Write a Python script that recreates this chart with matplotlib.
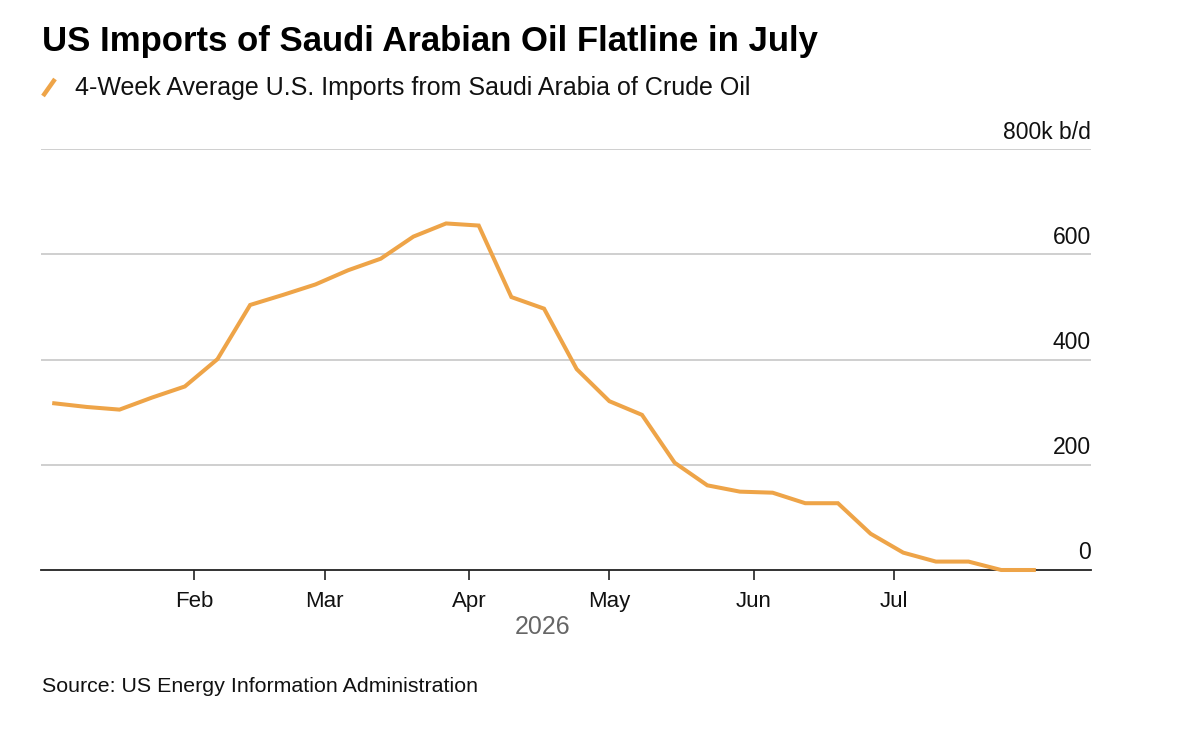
import numpy as np
import pandas as pd
import matplotlib
matplotlib.use("Agg")
import matplotlib.pyplot as plt
import matplotlib.dates as mdates

# weekly 4-week average imports, k b/d
week_ending = pd.date_range("2026-01-02", "2026-07-31", freq="7D")
imports_kbd = [317, 310, 305, 328, 349, 401, 504, 523, 543, 570, 592, 634,
               659, 655, 519, 497, 382, 321, 295, 204, 161, 149, 147, 127,
               127, 69, 33, 16, 16, 0, 0]
y_ticks = [0, 200, 400, 600, 800]
y_labels = ["0", "200", "400", "600", "800k b/d"]
month_ticks = pd.to_datetime(["2026-02-01", "2026-03-01", "2026-04-01",
                              "2026-05-01", "2026-06-01", "2026-07-01"])

orange = "#eea448"
plt.rcParams["font.family"] = ["Liberation Sans", "DejaVu Sans"]

W, H = 1200, 736
fig = plt.figure(figsize=(W / 100, H / 100), dpi=100)
ax = fig.add_axes([41 / W, 1 - 570 / H, (1091 - 41) / W, (570 - 149.3) / H])

ax.plot(week_ending, imports_kbd, color=orange, lw=2.9, solid_joinstyle="miter",
        clip_on=False, zorder=3)

ax.set_xlim(pd.Timestamp("2025-12-30 04:00"), pd.Timestamp("2026-08-12 06:00"))
ax.set_ylim(0, 800)

# horizontal grid lines + labels sitting above them on the right
for v, lab in zip(y_ticks, y_labels):
    if v > 0:
        ax.axhline(v, color="#cccccc", lw=1.3, zorder=1)
    ax.annotate(lab, xy=(1, v), xycoords=("axes fraction", "data"),
                xytext=(0, 4), textcoords="offset points",
                ha="right", va="bottom", fontsize=16.5, color="#111111")
ax.set_yticks([])

for s in ["top", "right", "left"]:
    ax.spines[s].set_visible(False)
ax.spines["bottom"].set_color("#222222")
ax.spines["bottom"].set_linewidth(1.3)

ax.set_xticks(month_ticks)
ax.xaxis.set_major_formatter(mdates.DateFormatter("%b"))
ax.tick_params(axis="x", length=7, width=1.2, color="#222222",
               labelsize=16, pad=8, labelcolor="#111111")

fig.text(543 / W, 1 - 627 / H, "2026", ha="center", va="center",
         fontsize=18, color="#666666")

fig.text(42 / W, 1 - 42 / H, "US Imports of Saudi Arabian Oil Flatline in July",
         ha="left", va="center", fontsize=25, fontweight="bold", color="#000000")

# legend: slanted orange dash + label
fig.add_artist(plt.Line2D([43 / W, 55 / W], [1 - 96 / H, 1 - 79 / H],
                          color=orange, lw=3.2, solid_capstyle="butt"))
fig.text(75 / W, 1 - 88 / H, "4-Week Average U.S. Imports from Saudi Arabia of Crude Oil",
         ha="left", va="center", fontsize=18, color="#111111")

fig.text(42 / W, 1 - 687 / H, "Source: US Energy Information Administration",
         ha="left", va="center", fontsize=15.4, color="#111111")

fig.savefig("out.png", dpi=100, facecolor="white")
